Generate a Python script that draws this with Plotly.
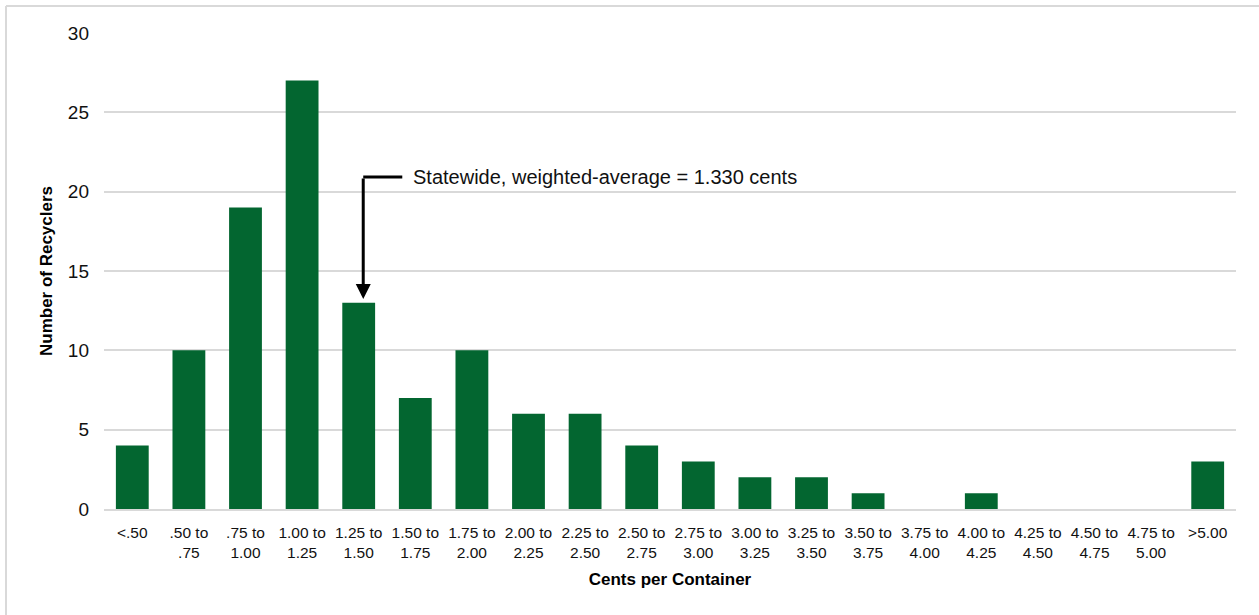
import plotly.graph_objects as go

# Distribution of recyclers by handling cost (cents per container)
bins = ["<.50", ".50 to<br>.75", ".75 to<br>1.00", "1.00 to<br>1.25", "1.25 to<br>1.50",
        "1.50 to<br>1.75", "1.75 to<br>2.00", "2.00 to<br>2.25", "2.25 to<br>2.50",
        "2.50 to<br>2.75", "2.75 to<br>3.00", "3.00 to<br>3.25", "3.25 to<br>3.50",
        "3.50 to<br>3.75", "3.75 to<br>4.00", "4.00 to<br>4.25", "4.25 to<br>4.50",
        "4.50 to<br>4.75", "4.75 to<br>5.00", ">5.00"]
recyclers = [4, 10, 19, 27, 13, 7, 10, 6, 6, 4, 3, 2, 2, 1, 0, 1, 0, 0, 0, 3]
y_ticks = [0, 5, 10, 15, 20, 25, 30]

avg_label = "Statewide, weighted-average = 1.330 cents"
avg_bin = 4  # bin holding the weighted average (1.25 to 1.50)

W, H = 1259, 615
ML, MR, MT, MB = 104, 23, 33, 106
PW, PH = W - ML - MR, H - MT - MB

FONT = "Liberation Sans, Arial, sans-serif"
GREEN = "#036630"
GRID = "#d9d9d9"
TEXT = "#111111"

fig = go.Figure(go.Bar(
    x=list(range(len(bins))),
    y=recyclers,
    marker=dict(color=GREEN, line=dict(width=0)),
    width=0.58,
    hoverinfo="x+y",
))

# elbow callout pointing at the bin containing the average
line_y = 20.92
x_v = avg_bin + 0.08
fig.add_shape(type="line", xref="x", yref="y",
              x0=x_v, x1=avg_bin + 0.77, y0=line_y, y1=line_y,
              line=dict(color="black", width=3))
fig.add_annotation(x=x_v, y=recyclers[avg_bin] + 0.23, ax=x_v, ay=line_y,
                   xref="x", yref="y", axref="x", ayref="y",
                   showarrow=True, arrowhead=2, arrowsize=1.0, arrowwidth=3,
                   arrowcolor="black", text="")
fig.add_annotation(x=avg_bin + 0.93, y=line_y, xref="x", yref="y",
                   text=avg_label, showarrow=False, xanchor="left", yanchor="middle",
                   font=dict(family=FONT, size=20, color=TEXT))

# outer frame (top and left edges)
def px_x(px):
    return (px - ML) / PW

def px_y(py):
    return 1 - (py - MT) / PH

fig.add_shape(type="line", xref="paper", yref="paper",
              x0=px_x(6), x1=px_x(1259), y0=px_y(6), y1=px_y(6),
              line=dict(color=GRID, width=2))
fig.add_shape(type="line", xref="paper", yref="paper",
              x0=px_x(6), x1=px_x(6), y0=px_y(6), y1=px_y(615),
              line=dict(color=GRID, width=2))

fig.update_layout(
    width=W, height=H,
    margin=dict(l=ML, r=MR, t=MT, b=MB, pad=0),
    paper_bgcolor="white", plot_bgcolor="white",
    showlegend=False,
    font=dict(family=FONT, color=TEXT),
    xaxis=dict(
        tickmode="array", tickvals=list(range(len(bins))), ticktext=bins,
        range=[-0.5, len(bins) - 0.5],
        showgrid=False, zeroline=False,
        showline=True, linecolor=GRID, linewidth=2,
        ticks="", tickangle=0,
        tickfont=dict(family=FONT, size=15.5, color=TEXT),
        ticklabelstandoff=8,
        title=dict(text="<b>Cents per Container</b>", standoff=13,
                   font=dict(family=FONT, size=17, color="black")),
    ),
    yaxis=dict(
        range=[0, 30], tickvals=y_ticks,
        showgrid=True, gridcolor=GRID, gridwidth=2,
        zeroline=False, showline=False, ticks="",
        tickfont=dict(family=FONT, size=19, color=TEXT),
        ticklabelstandoff=14,
        title=dict(text="<b>Number of Recyclers</b>", standoff=10,
                   font=dict(family=FONT, size=17, color="black")),
    ),
)

fig.write_html("out.html")
